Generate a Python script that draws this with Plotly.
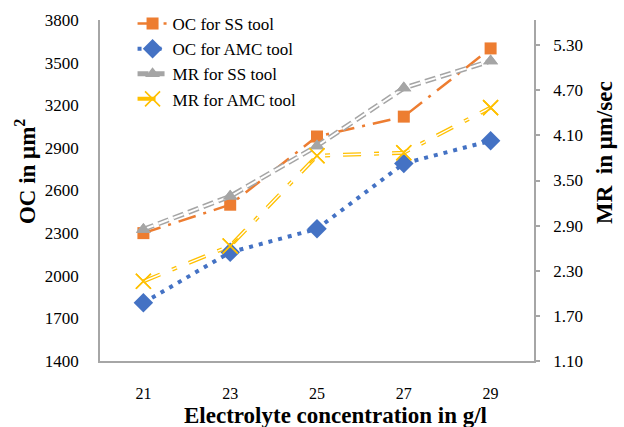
import plotly.graph_objects as go
from plotly.subplots import make_subplots

# ---- data ----
conc = [21, 23, 25, 27, 29]
oc_ss = [2300, 2500, 2980, 3120, 3600]
oc_amc = [1810, 2165, 2330, 2790, 2950]
mr_ss = [2.85, 3.29, 3.96, 4.73, 5.09]
mr_amc = [2.16, 2.63, 3.83, 3.87, 4.47]
oc_ticks = [1400, 1700, 2000, 2300, 2600, 2900, 3200, 3500, 3800]
mr_ticks = [1.10, 1.70, 2.30, 2.90, 3.50, 4.10, 4.70, 5.30]
names = ["OC for SS tool", "OC for AMC tool", "MR for SS tool", "MR for AMC tool"]

ORANGE = "#ED7D31"
BLUE = "#4472C4"
GRAY = "#A5A5A5"
YELLOW = "#FFC000"
AXIS = "#A6A6A6"
SERIF = "Liberation Serif"

fig = make_subplots(specs=[[{"secondary_y": True}]])

fig.add_trace(go.Scatter(
    x=conc, y=oc_ss, name=names[0], mode="lines+markers",
    line=dict(color=ORANGE, width=2.5, dash="18px,8px,3px,8px"),
    marker=dict(symbol="square", size=12, color=ORANGE)), secondary_y=False)

fig.add_trace(go.Scatter(
    x=conc, y=oc_amc, name=names[1], mode="lines+markers",
    line=dict(color=BLUE, width=4, dash="4px,6px"),
    marker=dict(symbol="diamond", size=15, color=BLUE)), secondary_y=False)

# MR for SS tool: hollow (compound) dashed line
fig.add_trace(go.Scatter(
    x=conc, y=mr_ss, name=names[2], mode="lines+markers",
    line=dict(color=GRAY, width=5, dash="11px,5px"),
    marker=dict(symbol="triangle-up", size=13, color=GRAY)), secondary_y=True)
fig.add_trace(go.Scatter(
    x=conc, y=mr_ss, showlegend=False, hoverinfo="skip", mode="lines",
    line=dict(color="white", width=2, dash="11px,5px")), secondary_y=True)
fig.add_trace(go.Scatter(
    x=conc, y=mr_ss, showlegend=False, hoverinfo="skip", mode="markers",
    marker=dict(symbol="triangle-up", size=13, color=GRAY)), secondary_y=True)

# MR for AMC tool: double line, long dash dot
fig.add_trace(go.Scatter(
    x=conc, y=mr_amc, name=names[3], mode="lines+markers",
    line=dict(color=YELLOW, width=4, dash="18px,13px,5px,13px"),
    marker=dict(symbol="x-thin", size=15, color=YELLOW,
                line=dict(color=YELLOW, width=1.6))), secondary_y=True)
fig.add_trace(go.Scatter(
    x=conc, y=mr_amc, showlegend=False, hoverinfo="skip", mode="lines",
    line=dict(color="white", width=1.4, dash="18px,13px,5px,13px")), secondary_y=True)
fig.add_trace(go.Scatter(
    x=conc, y=mr_amc, showlegend=False, hoverinfo="skip", mode="markers",
    marker=dict(symbol="x-thin", size=15, color=YELLOW,
                line=dict(color=YELLOW, width=1.6))), secondary_y=True)

fig.update_layout(
    width=624, height=427,
    margin=dict(l=100, r=90, t=20, b=66, autoexpand=False),
    paper_bgcolor="white", plot_bgcolor="white",
    font=dict(family=SERIF, size=17, color="black"),
    showlegend=True,
    legend=dict(x=0.075, y=1.041, xanchor="left", yanchor="top",
                bgcolor="rgba(0,0,0,0)", font=dict(family=SERIF, size=17),
                tracegroupgap=0),
)

fig.update_xaxes(
    domain=[0, 1],
    range=[20, 30], tickvals=conc, ticktext=[str(c) for c in conc],
    showgrid=False, zeroline=False, showline=True, linecolor=AXIS, linewidth=1.5,
    ticks="", ticklabelstandoff=17, tickfont=dict(family=SERIF, size=16))

fig.update_yaxes(
    range=[1400, 3800], tickvals=oc_ticks, showgrid=False, zeroline=False,
    showline=True, linecolor=AXIS, linewidth=1.5, ticks="",
    ticklabelstandoff=16, tickfont=dict(family=SERIF, size=17),
    secondary_y=False)

fig.update_yaxes(
    range=[1.10, 5.635], tickvals=mr_ticks, tickformat=".2f",
    showgrid=False, zeroline=False, showline=True, linecolor=AXIS, linewidth=1.5,
    ticks="outside", ticklen=4, tickcolor=AXIS, tickwidth=1.5,
    ticklabelstandoff=10, tickfont=dict(family=SERIF, size=17),
    secondary_y=True)

fig.add_annotation(text="<b>OC in μm<sup>2</sup></b>", xref="paper", yref="paper",
                   x=-0.1728, y=0.554, xanchor="center", yanchor="middle",
                   textangle=-90, showarrow=False,
                   font=dict(family=SERIF, size=23, color="black"))
fig.add_annotation(text="<b>MR  in μm/sec</b>", xref="paper", yref="paper",
                   x=1.1636, y=0.61, xanchor="center", yanchor="middle",
                   textangle=-90, showarrow=False,
                   font=dict(family=SERIF, size=23, color="black"))
fig.add_annotation(text="<b>Electrolyte concentration in g/l</b>", xref="paper", yref="paper",
                   x=0.5415, y=-0.161, xanchor="center", yanchor="middle",
                   showarrow=False,
                   font=dict(family=SERIF, size=23, color="black"))

fig.write_html("out.html")
